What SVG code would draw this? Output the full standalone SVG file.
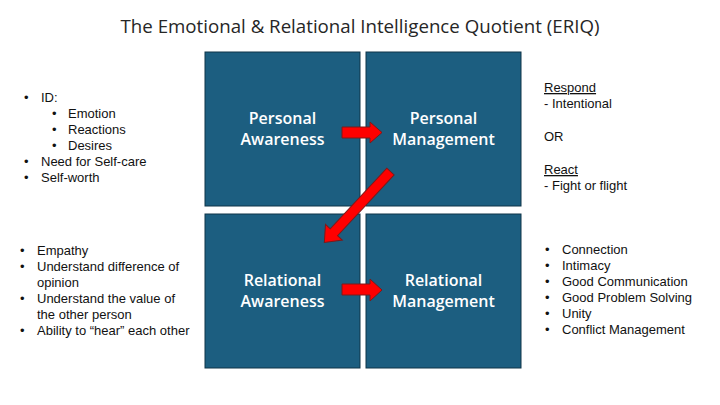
<svg xmlns="http://www.w3.org/2000/svg" width="720" height="405" viewBox="0 0 720 405">
<style>
.box{fill:#1C5E80;stroke:#0E3448;stroke-width:1}
.bl{fill:#FFFFFF;font-family:"Open Sans","Liberation Sans",sans-serif;font-weight:600;font-size:16px;text-anchor:middle}
.t{fill:#111;font-family:"Liberation Sans",Arial,sans-serif;font-size:13px}
.title{fill:#262626;font-family:"Open Sans","Liberation Sans",sans-serif;font-size:18.7px;text-anchor:middle}
.arr{fill:#FF0000;stroke:#7A1A1A;stroke-width:1}
</style>
<rect width="720" height="405" fill="#FFFFFF"/>
<text class="title" x="360" y="33">The Emotional &amp; Relational Intelligence Quotient (ERIQ)</text>

<g id="personal-awareness">
<rect class="box" x="205" y="52" width="155" height="154"/>
<text class="bl" x="282.5" y="124">Personal</text>
<text class="bl" x="282.5" y="145">Awareness</text>
</g>
<g id="personal-management">
<rect class="box" x="366" y="52" width="155" height="154"/>
<text class="bl" x="443.5" y="124">Personal</text>
<text class="bl" x="443.5" y="145">Management</text>
</g>
<g id="relational-awareness">
<rect class="box" x="205" y="214" width="155" height="154"/>
<text class="bl" x="282.5" y="286">Relational</text>
<text class="bl" x="282.5" y="307">Awareness</text>
</g>
<g id="relational-management">
<rect class="box" x="366" y="214" width="155" height="154"/>
<text class="bl" x="443.5" y="286">Relational</text>
<text class="bl" x="443.5" y="307">Management</text>
</g>

<g id="connectors">
<polygon class="arr" points="342,127 370,127 370,122 382,132.5 370,143 370,138 342,138"/>
<polygon class="arr" points="342,284 370,284 370,279 382,290 370,301 370,295 342,295"/>
<polygon class="arr" transform="translate(390.5,171.5) rotate(133)" points="0,-5 83,-5 83,-11.5 97,0 83,11.5 83,5 0,5"/>
</g>

<g id="left-top">
<text class="t" x="24" y="102">•</text><text class="t" x="41" y="102">ID:</text>
<text class="t" x="52" y="118">•</text><text class="t" x="68" y="118">Emotion</text>
<text class="t" x="52" y="134">•</text><text class="t" x="68" y="134">Reactions</text>
<text class="t" x="52" y="150">•</text><text class="t" x="68" y="150">Desires</text>
<text class="t" x="24" y="166">•</text><text class="t" x="41" y="166">Need for Self-care</text>
<text class="t" x="24" y="182">•</text><text class="t" x="41" y="182">Self-worth</text>
</g>
<g id="left-bottom">
<text class="t" x="20" y="255">•</text><text class="t" x="37" y="255">Empathy</text>
<text class="t" x="20" y="271">•</text><text class="t" x="37" y="271">Understand difference of</text>
<text class="t" x="37" y="287">opinion</text>
<text class="t" x="20" y="303">•</text><text class="t" x="37" y="303">Understand the value of</text>
<text class="t" x="37" y="319">the other person</text>
<text class="t" x="20" y="335">•</text><text class="t" x="37" y="335">Ability to “hear” each other</text>
</g>
<g id="right-top">
<text class="t" x="544" y="92" text-decoration="underline">Respond</text>
<text class="t" x="544" y="108">- Intentional</text>
<text class="t" x="544" y="141">OR</text>
<text class="t" x="544" y="174" text-decoration="underline">React</text>
<text class="t" x="544" y="190">- Fight or flight</text>
</g>
<g id="right-bottom">
<text class="t" x="545" y="254">•</text><text class="t" x="562" y="254">Connection</text>
<text class="t" x="545" y="270">•</text><text class="t" x="562" y="270">Intimacy</text>
<text class="t" x="545" y="286">•</text><text class="t" x="562" y="286">Good Communication</text>
<text class="t" x="545" y="302">•</text><text class="t" x="562" y="302">Good Problem Solving</text>
<text class="t" x="545" y="318">•</text><text class="t" x="562" y="318">Unity</text>
<text class="t" x="545" y="334">•</text><text class="t" x="562" y="334">Conflict Management</text>
</g>
</svg>
